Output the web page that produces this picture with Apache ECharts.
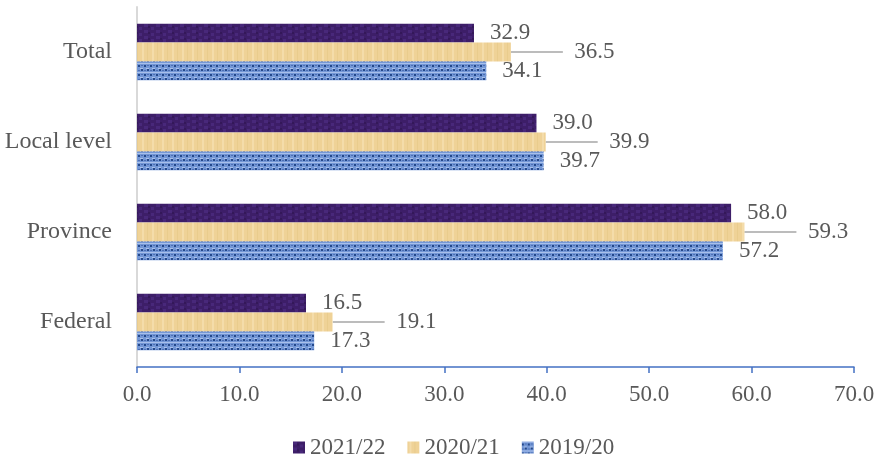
<!DOCTYPE html>
<html>
<head>
<meta charset="utf-8">
<script src="https://cdn.jsdelivr.net/npm/echarts@6/dist/echarts.min.js"></script>
<style>
html, body { margin: 0; padding: 0; background: #fff; }
#main { width: 878px; height: 456px; }
</style>
</head>
<body>
<div id="main"></div>
<script>
// categories bottom -> top (category axis starts at the bottom)
var categories = ['Federal', 'Province', 'Local level', 'Total'];
var y2122 = [16.5, 58.0, 39.0, 32.9];
var y2021 = [19.1, 59.3, 39.9, 36.5];
var y1920 = [17.3, 57.2, 39.7, 34.1];
var legendNames = ['2021/22', '2020/21', '2019/20'];

var serif = 'Liberation Serif';
var grey = '#595959';

// small texture tiles, to look like the picture fills
function tile(w, h, draw) {
    var c = document.createElement('canvas');
    c.width = w;
    c.height = h;
    draw(c.getContext('2d'));
    return { image: c, repeat: 'repeat' };
}
var purpleFill = tile(12, 6, function (g) {
    g.fillStyle = '#3d1e68';
    g.fillRect(0, 0, 12, 6);
    g.fillStyle = '#48287a';
    g.fillRect(0, 0, 4, 3);
    g.fillRect(7, 3, 3, 3);
    g.fillStyle = '#341859';
    g.fillRect(4, 2, 2, 2);
});
var yellowFill = tile(10, 6, function (g) {
    g.fillStyle = '#efd297';
    g.fillRect(0, 0, 10, 6);
    g.fillStyle = '#f4dcaa';
    g.fillRect(2, 0, 2, 6);
    g.fillStyle = '#e9cc8d';
    g.fillRect(7, 0, 1, 6);
});
var blueFill = tile(6, 9, function (g) {
    g.fillStyle = '#7397d6';
    g.fillRect(0, 0, 6, 9);
    g.fillStyle = '#a9c0ea';
    g.fillRect(0, 0, 6, 1);
    g.fillRect(2, 5, 3, 1);
    g.fillStyle = '#24488a';
    g.fillRect(0, 2, 2, 2);
    g.fillRect(3, 6, 2, 2);
    g.fillStyle = '#4d6fb4';
    g.fillRect(3, 2, 2, 1);
    g.fillRect(0, 7, 2, 1);
});

function fmt(p) {
    return p.value.toFixed(1);
}
var valueLabel = {
    show: true,
    position: 'right',
    distance: 16,
    color: grey,
    fontFamily: serif,
    fontSize: 23,
    formatter: fmt
};

var chart = echarts.init(document.getElementById('main'));
chart.setOption({
    animation: false,
    textStyle: { fontFamily: serif },
    grid: { left: 137, right: 24, top: 7, bottom: 89 },
    legend: {
        data: legendNames,
        left: 288,
        top: 431,
        itemWidth: 12,
        itemHeight: 12,
        itemGap: 22,
        icon: 'rect',
        textStyle: { color: grey, fontFamily: serif, fontSize: 23 }
    },
    xAxis: {
        type: 'value',
        min: 0,
        max: 70,
        interval: 10,
        splitLine: { show: false },
        axisLine: { show: true, lineStyle: { color: '#4472c4', width: 1.5 } },
        axisTick: { show: true, length: 6, lineStyle: { color: '#4472c4', width: 1.5 } },
        axisLabel: {
            color: grey,
            fontFamily: serif,
            fontSize: 23,
            margin: 16,
            formatter: function (v) { return v.toFixed(1); }
        }
    },
    yAxis: {
        type: 'category',
        data: categories,
        axisLine: { show: true, lineStyle: { color: '#d9d9d9', width: 2 } },
        axisTick: { show: false },
        axisLabel: { color: grey, fontFamily: serif, fontSize: 24, margin: 25 }
    },
    series: [
        {
            name: '2021/22',
            type: 'bar',
            data: y2122,
            barGap: '0%',
            barCategoryGap: '37%',
            itemStyle: { color: purpleFill },
            label: valueLabel
        },
        {
            name: '2020/21',
            type: 'bar',
            data: y2021,
            barGap: '0%',
            barCategoryGap: '37%',
            itemStyle: { color: yellowFill },
            label: {
                show: true,
                position: 'right',
                distance: 2,
                color: grey,
                fontFamily: serif,
                fontSize: 23,
                formatter: function (p) { return '  ' + p.value.toFixed(1); }
            },
            labelLayout: { dx: 50 },
            labelLine: { show: true, lineStyle: { color: '#a6a6a6', width: 1.5 } }
        },
        {
            name: '2019/20',
            type: 'bar',
            data: y1920,
            barGap: '0%',
            barCategoryGap: '37%',
            itemStyle: { color: blueFill },
            label: valueLabel
        }
    ]
});
</script>
</body>
</html>
